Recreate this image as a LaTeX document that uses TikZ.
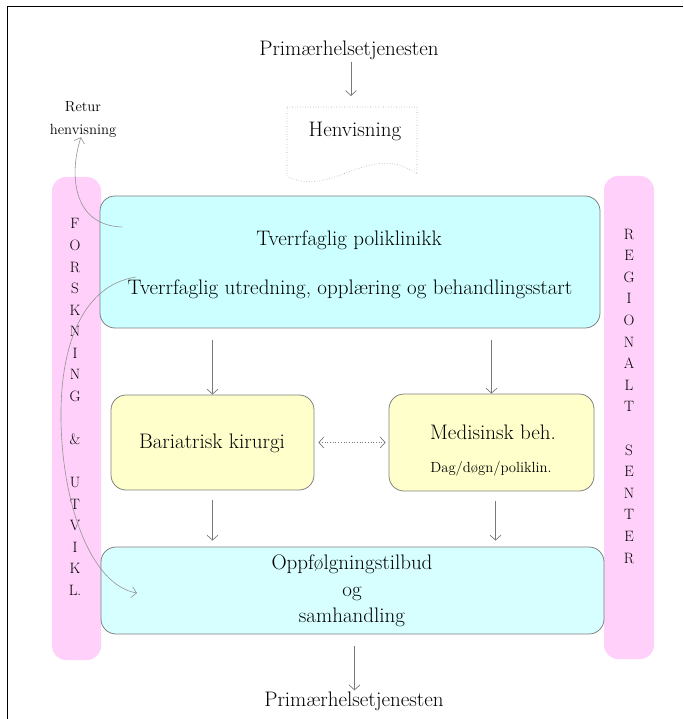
\documentclass[tikz,border=0pt]{standalone}
\usepackage{fontspec}
\usetikzlibrary{arrows.meta,calc}
\definecolor{pinkbar}{RGB}{255,208,250}
\definecolor{cyanbox}{RGB}{204,255,255}
\definecolor{cyanlite}{RGB}{215,255,255}
\definecolor{yelbox}{RGB}{255,255,204}
\definecolor{edgegray}{RGB}{128,128,128}
\definecolor{arrgray}{RGB}{120,120,120}
\tikzset{
  bigtxt/.style={font=\fontsize{21}{26.5}\selectfont, inner sep=0pt, align=center},
  smalltxt/.style={font=\fontsize{14.7}{23}\selectfont, inner sep=0pt, align=center},
  lettxt/.style={font=\fontsize{15}{16}\selectfont, inner sep=0pt, anchor=base},
  boxshape/.style={draw=edgegray, line width=0.8pt, rounded corners=15pt, inner sep=0pt},
  barshape/.style={fill=pinkbar, rounded corners=14pt, inner sep=0pt},
  arr/.style={draw=arrgray, line width=0.7pt, -{Straight Barb[length=5pt,width=11pt]}},
  curv/.style={draw=arrgray!80, line width=0.6pt, -{Straight Barb[length=5pt,width=11pt]}},
}
\begin{document}
\begin{tikzpicture}[x=1pt,y=-1pt]
\useasboundingbox (0,0) rectangle (683,719);
% frame
\draw[line width=1pt] (7,719) -- (7,7) -- (683,7);
% side bars
\node[barshape, minimum width=49pt, minimum height=483pt] (lbar) at (76.5,418.5) {};
\node[barshape, minimum width=50pt, minimum height=483pt] (rbar) at (629,417.5) {};
% main boxes
\node[boxshape, fill=cyanbox, minimum width=500pt, minimum height=132pt] (tv) at (350,262) {};
\node[boxshape, fill=yelbox, minimum width=203pt, minimum height=95pt] (bar) at (212.5,442.5) {};
\node[boxshape, fill=yelbox, minimum width=205pt, minimum height=97pt] (med) at (491.5,442.5) {};
\node[boxshape, fill=cyanlite, minimum width=503pt, minimum height=87pt] (opp) at (352.5,590.5) {};
% document shape
\draw[edgegray!70, dotted, line width=0.6pt, fill=white] (287,107) -- (417,107) -- (417,174)
  .. controls (370,140) and (330,200) .. (287,176) -- cycle;
\node[bigtxt] (henv) at (355,131) {Henvisning};
\coordinate (henvtop) at (351,107);
% texts
\node[bigtxt] (ptop) at (349,50) {Primærhelsetjenesten};
\node[smalltxt] (retur) at (83,119) {Retur\\henvisning};
\node[bigtxt] (tv1) at (349,240) {Tverrfaglig poliklinikk};
\node[bigtxt] (tv2) at (350,289) {Tverrfaglig utredning, opplæring og behandlingsstart};
\node[bigtxt] (bar1) at (212,443) {Bariatrisk kirurgi};
\node[bigtxt] (med1) at (493,432) {Medisinsk beh.};
\node[smalltxt] (med2) at (491,469) {Dag/døgn/poliklin.};
\node[bigtxt] (opp1) at (352,591) {Oppfølgningstilbud\\og\\samhandling};
\node[bigtxt] (pbot) at (354,701) {Primærhelsetjenesten};
% vertical letters
\foreach \l/\y [count=\i] in {F/224,O/245.5,R/267,S/288.6,K/310,N/331.7,I/353.3,N/374.8,G/396.4,\&/439.5,U/482.6,T/504,V/525.7,I/547.3,K/568.8,L./590.4}
  \node[lettxt] (lt\i) at (75,\y+5) {\l};
\foreach \l/\y [count=\i] in {R/234,E/255.6,G/277.2,I/298.8,O/320.4,N/342,A/363.6,L/385.2,T/406.8,S/450,E/471.6,N/493.2,T/514.8,E/536.4,R/558}
  \node[lettxt] (rt\i) at (629,\y+5) {\l};
% straight arrows
\draw[arr, shorten <=2pt, shorten >=11pt] (ptop.south -| henvtop) -- (henvtop);
\draw[arr, shorten <=12pt] (tv.south -| bar.north) -- (bar.north);
\draw[arr, shorten <=12pt] (tv.south -| med.north) -- (med.north);
\draw[arr, shorten <=10pt, shorten >=6pt] (bar.south) -- (bar.south |- opp.north);
\draw[arr, shorten <=10pt, shorten >=6pt] ([xshift=4pt]med.south) -- ([xshift=4pt]med.south |- opp.north);
\draw[arr, shorten <=12pt, shorten >=1pt] ([xshift=2pt]opp.south) -- ([xshift=2pt]opp.south |- pbot.north);
\draw[draw=arrgray, line width=0.7pt, dotted, {Straight Barb[length=5pt,width=11pt]}-{Straight Barb[length=5pt,width=11pt]}, shorten <=4pt, shorten >=3pt] (bar.east) -- (med.west);
% curved arrows
\coordinate (c1) at (122,227);
\coordinate (c2) at (136,277);
\coordinate (c3) at (137,593);
\draw[curv] (c1) .. controls (70,225) and (70,170) .. ([xshift=-2pt]retur.south);
\draw[curv] (c2) .. controls (85,285) and (62,340) .. (61,410) .. controls (60,500) and (90,585) .. (c3);
\end{tikzpicture}
\end{document}
